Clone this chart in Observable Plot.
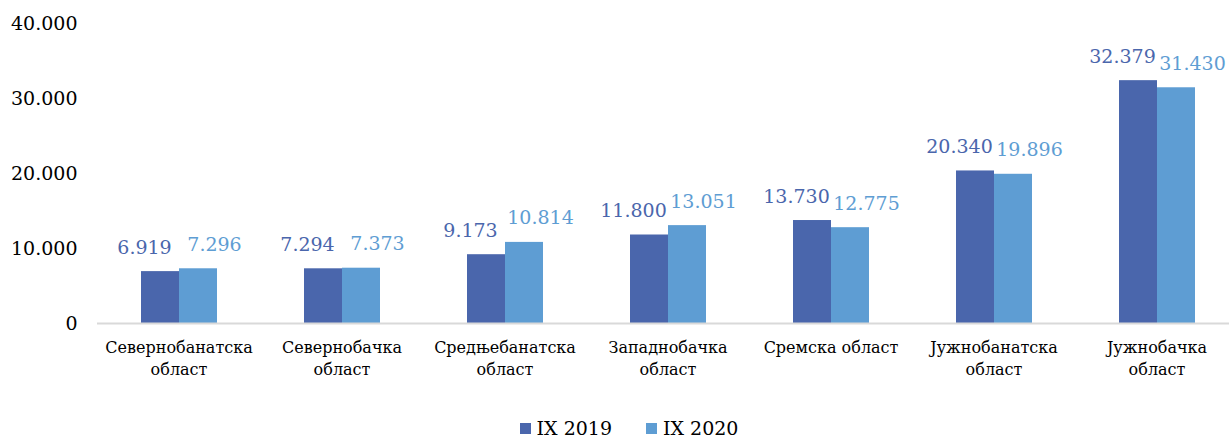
<!DOCTYPE html>
<html><head><meta charset="utf-8">
<script src="https://cdn.jsdelivr.net/npm/d3@7"></script>
<script src="https://cdn.jsdelivr.net/npm/@observablehq/plot@0.6"></script>
<style>
body{margin:0;background:#fff;font-family:"DejaVu Serif",serif;overflow:hidden;}
#legend{display:flex;justify-content:center;align-items:center;height:20px;margin-top:23px;padding-left:29px;font-size:19px;color:#000;}
#legend .item{display:flex;align-items:center;margin:0 17px;}
#legend .sw{width:11px;height:11px;margin-right:6px;}
</style></head><body>
<div id="chart"></div>
<div id="legend"></div>
<script>
const categories = ["Севернобанатска\nобласт","Севернобачка\nобласт","Средњебанатска\nобласт","Западнобачка\nобласт","Сремска област","Јужнобанатска\nобласт","Јужнобачка\nобласт"];
const series = ["IX 2019","IX 2020"];
const values2019 = [6919,7294,9173,11800,13730,20340,32379];
const values2020 = [7296,7373,10814,13051,12775,19896,31430];
const yTicks = [0,10000,20000,30000,40000];
const colors = ["#4a66ac","#5e9dd3"];

const fmt = d3.formatLocale({thousands:".", decimal:",", grouping:[3], currency:["",""]}).format(",d");
const rows = categories.flatMap((c,i)=>[
  {cat:c, series:series[0], value:values2019[i]},
  {cat:c, series:series[1], value:values2020[i]}
]);

const chart = Plot.plot({
  width:1229, height:395,
  marginTop:23, marginBottom:72, marginLeft:96, marginRight:0,
  style:{fontFamily:"DejaVu Serif, serif", fontSize:"19px", color:"#000", background:"#fff", overflow:"hidden"},
  fx:{domain:categories, padding:0, label:null, range:[96,1239]},
  x:{domain:series, axis:null, paddingInner:0, paddingOuter:1.09},
  y:{domain:[0,40000], label:null},
  color:{domain:series, range:colors},
  marks:[
    Plot.axisY({ticks:yTicks, tickFormat:fmt, tickSize:0, tickPadding:20, fontSize:19, label:null, fill:"#000"}),
    Plot.axisFx({anchor:"bottom", tickSize:0, tickPadding:14, fontSize:16, lineHeight:1.375, label:null, fill:"#000"}),
    Plot.barY(rows, {fx:"cat", x:"series", y:"value", fill:"series"}),
    Plot.ruleY([0], {stroke:"#d9d9d9", strokeWidth:2}),
    Plot.text(rows.filter(d=>d.series===series[0]), {fx:"cat", x:"series", y:"value", text:d=>fmt(d.value), dy:-24, dx:-16, fill:colors[0], fontSize:19}),
    Plot.text(rows.filter(d=>d.series===series[1]), {fx:"cat", x:"series", y:"value", text:d=>fmt(d.value), dy:-24, dx:16, fill:colors[1], fontSize:19})
  ]
});
document.getElementById("chart").appendChild(chart);

const legend = document.getElementById("legend");
series.forEach((s,i)=>{
  const it = document.createElement("div"); it.className="item";
  const sw = document.createElement("div"); sw.className="sw"; sw.style.background=colors[i];
  const t = document.createElement("span"); t.textContent = s;
  it.appendChild(sw); it.appendChild(t); legend.appendChild(it);
});
</script>
</body></html>
